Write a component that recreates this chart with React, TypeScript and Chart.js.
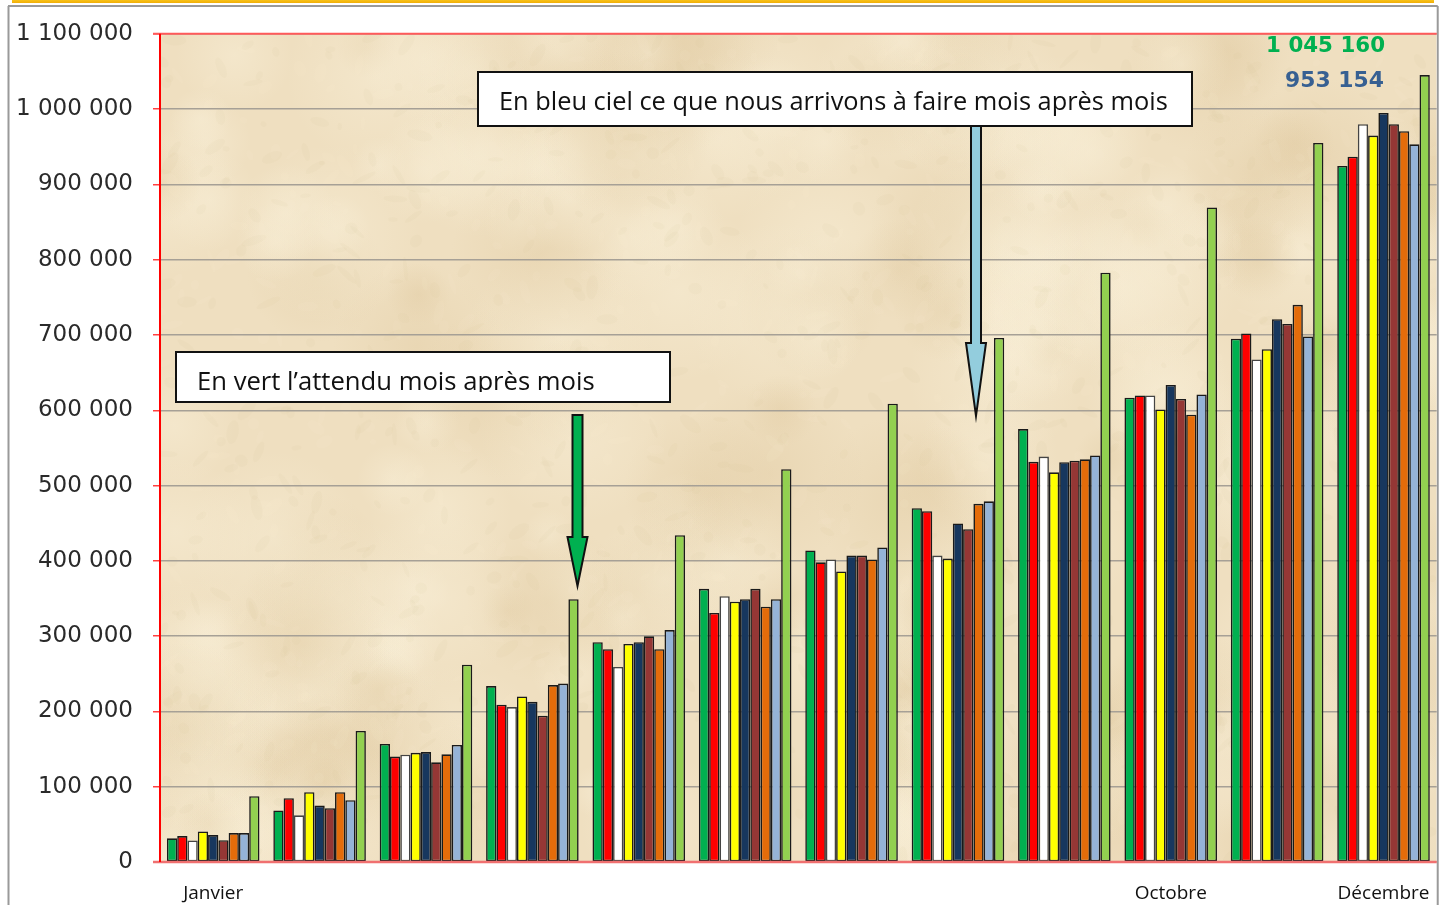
import React, { useEffect, useRef } from "react";
import { Chart, registerables } from "chart.js";

Chart.register(...registerables);

const months = ["Janvier", "Février", "Mars", "Avril", "Mai", "Juin", "Juillet", "Août", "Septembre", "Octobre", "Novembre", "Décembre"];
const shownMonths = ["Janvier", "Octobre", "Décembre"];

const serieVert = [31400, 68500, 156800, 233600, 291900, 362800, 413700, 470000, 575000, 616700, 695000, 924400];
const serieRouge = [34400, 84800, 140000, 209000, 282600, 330700, 398000, 466000, 531500, 619600, 702000, 936800];
const serieBlanc = [28700, 62000, 142600, 205800, 259000, 353000, 401800, 407000, 538500, 619600, 667500, 980000];
const serieJaune = [40600, 92700, 145000, 219800, 289700, 345700, 386000, 403000, 517600, 601000, 681000, 964800];
const serieMarine = [35700, 75000, 146000, 212800, 291900, 349000, 407000, 449600, 531000, 633600, 721000, 994800];
const serieBrun = [29000, 71500, 132400, 194300, 299800, 362800, 407000, 442000, 533000, 615000, 714700, 980000];
const serieOrange = [38400, 92700, 143000, 235000, 282600, 339000, 401800, 475700, 534800, 594000, 740000, 970600];
const realiseBleuCiel = [38400, 82000, 155500, 237000, 308000, 349000, 417700, 479000, 540000, 621000, 698000, 953154];
const attenduVert = [87400, 174000, 262000, 349000, 434000, 521800, 608800, 696000, 782700, 869400, 955000, 1045160];

const yMax = 1100000;
const yStep = 100000;

const noteBleu = "En bleu ciel ce que nous arrivons à faire mois après mois";
const noteVert = "En vert l’attendu mois après mois";

const fmt = (n: number) => Math.round(n).toString().replace(/\B(?=(\d{3})+(?!\d))/g, " ");

function mulberry32(a: number) {
  return function () {
    a |= 0;
    a = (a + 0x6d2b79f5) | 0;
    let t = Math.imul(a ^ (a >>> 15), 1 | a);
    t = (t + Math.imul(t ^ (t >>> 7), 61 | t)) ^ t;
    return ((t ^ (t >>> 14)) >>> 0) / 4294967296;
  };
}

function fitFont(ctx: CanvasRenderingContext2D, text: string, family: string, weight: string, targetW: number) {
  let size = 20;
  ctx.font = `${weight} ${size}px ${family}`;
  const w = ctx.measureText(text).width;
  size = (size * targetW) / w;
  ctx.font = `${weight} ${size}px ${family}`;
  return size;
}

const backgroundPlugin = {
  id: "parchment",
  beforeDraw(chart: any) {
    const { ctx, chartArea: a, width, height } = chart;
    ctx.save();
    ctx.fillStyle = "#ffffff";
    ctx.fillRect(0, 0, width, height);
    const g = ctx.createLinearGradient(0, 0, 0, 4);
    g.addColorStop(0, "#f7c21a");
    g.addColorStop(1, "#f0a800");
    ctx.fillStyle = g;
    ctx.fillRect(12, 0, 1422, 3);
    ctx.strokeStyle = "#9a9a9a";
    ctx.lineWidth = 2;
    ctx.beginPath();
    ctx.moveTo(8, 6);
    ctx.lineTo(a.right + 1, 6);
    ctx.moveTo(8.5, 6);
    ctx.lineTo(8.5, height);
    ctx.moveTo(a.right + 1, 6);
    ctx.lineTo(a.right + 1, height);
    ctx.stroke();
    // parchment
    ctx.beginPath();
    ctx.rect(a.left, a.top, a.right - a.left, a.bottom - a.top);
    ctx.clip();
    ctx.fillStyle = "#efdfc0";
    ctx.fillRect(a.left, a.top, a.right - a.left, a.bottom - a.top);
    const rnd = mulberry32(9876);
    const W = a.right - a.left;
    const H = a.bottom - a.top;
    for (let i = 0; i < 220; i++) {
      const x = a.left + rnd() * W;
      const y = a.top + rnd() * H;
      const r = 25 + rnd() * 70;
      const light = rnd() > 0.45;
      const rg = ctx.createRadialGradient(x, y, 0, x, y, r);
      if (light) {
        rg.addColorStop(0, "rgba(248,238,214,0.5)");
        rg.addColorStop(1, "rgba(248,238,214,0)");
      } else {
        rg.addColorStop(0, "rgba(220,196,152,0.3)");
        rg.addColorStop(1, "rgba(220,196,152,0)");
      }
      ctx.fillStyle = rg;
      ctx.fillRect(x - r, y - r, 2 * r, 2 * r);
    }
    for (let i = 0; i < 1400; i++) {
      const x = a.left + rnd() * W;
      const y = a.top + rnd() * H;
      const rx = 3 + rnd() * 10;
      const ry = 2 + rnd() * 4;
      ctx.fillStyle = rnd() > 0.5 ? "rgba(210,184,140,0.06)" : "rgba(250,242,222,0.08)";
      ctx.beginPath();
      ctx.ellipse(x, y, rx, ry, rnd() * Math.PI, 0, Math.PI * 2);
      ctx.fill();
    }
    ctx.restore();
  },
};

function drawArrow(ctx: CanvasRenderingContext2D, x: number, y0: number, yHead: number, yTip: number, shaftHalf: number, headHalf: number, fill: string) {
  ctx.beginPath();
  ctx.moveTo(x - shaftHalf, y0);
  ctx.lineTo(x + shaftHalf, y0);
  ctx.lineTo(x + shaftHalf, yHead);
  ctx.lineTo(x + headHalf, yHead);
  ctx.lineTo(x, yTip);
  ctx.lineTo(x - headHalf, yHead);
  ctx.lineTo(x - shaftHalf, yHead);
  ctx.closePath();
  ctx.fillStyle = fill;
  ctx.fill();
  ctx.lineWidth = 2;
  ctx.strokeStyle = "#111111";
  ctx.lineJoin = "miter";
  ctx.stroke();
}

const overlayPlugin = {
  id: "overlay",
  afterDraw(chart: any) {
    const { ctx, chartArea: a } = chart;
    ctx.save();
    ctx.strokeStyle = "#ff5a5a";
    ctx.lineWidth = 2;
    ctx.beginPath();
    ctx.moveTo(a.left - 7, a.top);
    ctx.lineTo(a.right, a.top);
    ctx.stroke();
    ctx.strokeStyle = "#f07070";
    ctx.lineWidth = 2.5;
    ctx.beginPath();
    ctx.moveTo(a.left - 7, a.bottom);
    ctx.lineTo(a.right, a.bottom);
    ctx.stroke();
    ctx.strokeStyle = "#ff0000";
    ctx.lineWidth = 2;
    ctx.beginPath();
    ctx.moveTo(a.left, a.top);
    ctx.lineTo(a.left, a.bottom);
    ctx.stroke();

    // box 1
    ctx.fillStyle = "#ffffff";
    ctx.fillRect(478, 72, 714, 54);
    ctx.strokeStyle = "#111111";
    ctx.lineWidth = 2;
    ctx.strokeRect(478, 72, 714, 54);
    ctx.fillStyle = "#111111";
    fitFont(ctx, noteBleu, "'Open Sans'", "normal", 669);
    ctx.textBaseline = "alphabetic";
    ctx.textAlign = "left";
    ctx.fillText(noteBleu, 499, 110);

    // box 2
    ctx.fillStyle = "#ffffff";
    ctx.fillRect(176, 352, 494, 50);
    ctx.strokeStyle = "#111111";
    ctx.lineWidth = 2;
    ctx.strokeRect(176, 352, 494, 50);
    ctx.save();
    ctx.beginPath();
    ctx.rect(177, 353, 492, 39);
    ctx.clip();
    ctx.fillStyle = "#111111";
    fitFont(ctx, noteVert, "'Open Sans'", "normal", 398);
    ctx.fillText(noteVert, 197, 390);
    ctx.restore();

    drawArrow(ctx, 976, 126, 343, 416, 5, 10, "#93cddd");
    drawArrow(ctx, 577.5, 415, 537, 586, 5, 10, "#00b050");

    ctx.textAlign = "right";
    ctx.textBaseline = "alphabetic";
    const t1 = fmt(attenduVert[attenduVert.length - 1]);
    const t2 = fmt(realiseBleuCiel[realiseBleuCiel.length - 1]);
    fitFont(ctx, t1, "'DejaVu Sans'", "bold", 119);
    ctx.fillStyle = "#00b050";
    ctx.fillText(t1, 1385, 52);
    fitFont(ctx, t2, "'DejaVu Sans'", "bold", 99);
    ctx.fillStyle = "#376092";
    ctx.fillText(t2, 1384, 87);
    ctx.restore();
  },
};

export default function App() {
  const ref = useRef<HTMLCanvasElement>(null);
  useEffect(() => {
    if (!ref.current) return;
    const mk = (label: string, data: number[], color: string, border = "#1a1a1a") => ({
      label,
      data,
      backgroundColor: color,
      borderColor: border,
      borderWidth: 1.6,
      borderSkipped: false as any,
      categoryPercentage: 0.87,
      barPercentage: 1.0,
    });
    const chart = new Chart(ref.current, {
      type: "bar",
      data: {
        labels: months,
        datasets: [
          mk("Vert", serieVert, "#00b050"),
          mk("Rouge", serieRouge, "#ff0000"),
          mk("Blanc", serieBlanc, "#ffffff", "#444444"),
          mk("Jaune", serieJaune, "#ffff00"),
          mk("Marine", serieMarine, "#17375e"),
          mk("Brun", serieBrun, "#953735"),
          mk("Orange", serieOrange, "#e46c0a"),
          mk("Réalisé", realiseBleuCiel, "#95b3d7"),
          mk("Attendu", attenduVert, "#92d050"),
        ],
      },
      options: {
        responsive: false,
        animation: false,
        layout: { padding: { top: 32, right: 13, left: 0, bottom: 0 } },
        plugins: { legend: { display: false }, tooltip: { enabled: false } },
        scales: {
          x: {
            grid: { display: false, drawTicks: false },
            border: { display: false },
            ticks: {
              autoSkip: false,
              maxRotation: 0,
              padding: 20,
              color: "#111111",
              font: { family: "'Open Sans'", size: 19 },
              callback: (_v: any, i: number) => (shownMonths.includes(months[i]) ? months[i] : ""),
            },
            afterFit: (s: any) => {
              s.height = 43;
            },
          },
          y: {
            min: 0,
            max: yMax,
            grid: { color: "#a6a096", lineWidth: 1.5, tickColor: "#ff4040", tickLength: 7 },
            border: { display: false },
            ticks: {
              stepSize: yStep,
              padding: 20,
              color: "#2a2a2a",
              font: { family: "'DejaVu Sans'", size: 23 },
              callback: (v: any) => fmt(Number(v)),
            },
            afterFit: (s: any) => {
              s.width = 160;
            },
          },
        },
      },
      plugins: [backgroundPlugin, overlayPlugin],
    } as any);
    return () => chart.destroy();
  }, []);
  return (
    <div style={{ position: "absolute", left: 0, top: 0, width: 1450, height: 905 }}>
      <canvas ref={ref} width={1450} height={905} />
    </div>
  );
}
